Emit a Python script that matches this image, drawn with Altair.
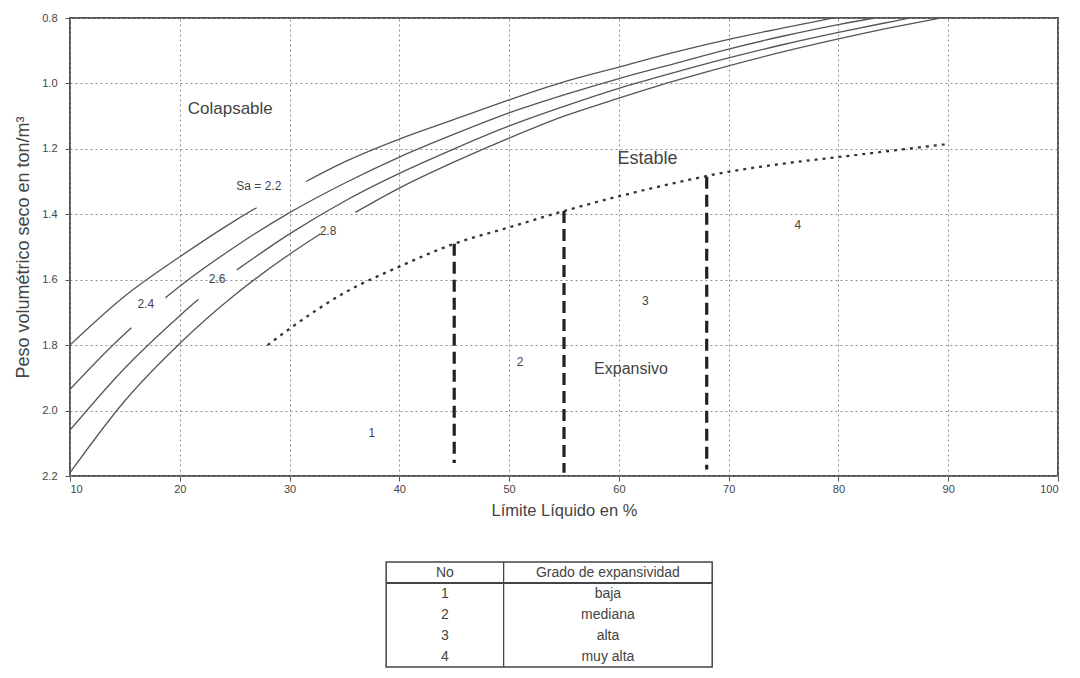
import altair as alt
import pandas as pd

FONT = "Liberation Sans"

# ---------------- data ----------------
# Curves of constant Sa (LL in %, dry unit weight in ton/m3); each curve has a gap for its label
ll_22 = [10, 15, 20, 25, 27.0, 31.5, 35, 40, 45, 50, 55, 60, 65, 70, 75, 79.5]
g_22 = [1.80, 1.65, 1.53, 1.42, 1.38, 1.30, 1.24, 1.17, 1.11, 1.05, 0.995, 0.95, 0.905, 0.865, 0.83, 0.80]
gap_22 = [27.0, 31.5]

ll_24 = [10, 15, 15.6, 18.7, 20, 25, 30, 35, 40, 45, 50, 55, 60, 65, 70, 75, 80, 83.3]
g_24 = [1.935, 1.765, 1.747, 1.655, 1.62, 1.50, 1.395, 1.305, 1.225, 1.155, 1.09, 1.035, 0.985, 0.94, 0.895, 0.855, 0.82, 0.80]
gap_24 = [15.6, 18.7]

ll_26 = [10, 15, 20, 21.7, 25.2, 30, 35, 40, 45, 50, 55, 60, 65, 70, 75, 80, 85, 86.5]
g_26 = [2.06, 1.87, 1.71, 1.66, 1.57, 1.46, 1.36, 1.275, 1.20, 1.13, 1.07, 1.015, 0.967, 0.922, 0.881, 0.844, 0.81, 0.80]
gap_26 = [21.7, 25.2]

ll_28 = [10, 15, 20, 25, 30, 32.8, 36, 40, 45, 50, 55, 60, 65, 70, 75, 80, 85, 89.3]
g_28 = [2.19, 1.97, 1.795, 1.647, 1.522, 1.46, 1.394, 1.32, 1.24, 1.167, 1.10, 1.045, 0.993, 0.946, 0.903, 0.864, 0.828, 0.80]
gap_28 = [32.8, 36.0]

# Dotted boundary Estable / Expansivo
bnd_ll = [28, 30, 35, 40, 45, 50, 55, 60, 65, 70, 75, 80, 85, 90]
bnd_g = [1.80, 1.75, 1.64, 1.56, 1.49, 1.44, 1.39, 1.345, 1.305, 1.27, 1.245, 1.225, 1.205, 1.185]

# Dashed dividers between expansivity degrees
div_ll = [45, 55, 68]
div_top = [1.49, 1.39, 1.285]
div_bot = [2.16, 2.19, 2.18]

# Text labels inside the plot
lab_text = ["Colapsable", "Sa = 2.2", "2.4", "2.6", "2.8", "Estable", "4", "3", "2", "Expansivo", "1"]
lab_ll = [24.6, 27.2, 16.9, 23.4, 33.5, 62.6, 76.3, 62.4, 51.0, 61.1, 37.5]
lab_g = [1.078, 1.313, 1.673, 1.597, 1.45, 1.23, 1.432, 1.664, 1.85, 1.872, 2.07]
lab_kind = ["big", "curve", "curve", "curve", "curve", "est", "num", "num", "num", "mid", "num"]

x_ticks = [10, 20, 30, 40, 50, 60, 70, 80, 90, 100]
y_ticks = [0.8, 1.0, 1.2, 1.4, 1.6, 1.8, 2.0, 2.2]

# Table
tbl_head = ["No", "Grado de expansividad"]
tbl_no = ["1", "2", "3", "4"]
tbl_grado = ["baja", "mediana", "alta", "muy alta"]

# ---------------- build tables ----------------
rows = []
for name, lls, gs, gap in [("2.2", ll_22, g_22, gap_22), ("2.4", ll_24, g_24, gap_24),
                           ("2.6", ll_26, g_26, gap_26), ("2.8", ll_28, g_28, gap_28)]:
    for l, g in zip(lls, gs):
        rows.append({"ll": l, "g": g, "curve": name, "seg": 0 if l <= gap[0] else 1})
df_curves = pd.DataFrame(rows)
df_curves["key"] = df_curves["curve"] + "_" + df_curves["seg"].astype(str)

df_bnd = pd.DataFrame({"ll": bnd_ll, "g": bnd_g})
df_div = pd.DataFrame({"ll": div_ll, "g": div_top, "g2": div_bot})
df_lab = pd.DataFrame({"ll": lab_ll, "g": lab_g, "t": lab_text, "k": lab_kind})

XS = alt.Scale(domain=[10, 100], nice=False, zero=False)
YS = alt.Scale(domain=[0.8, 2.2], reverse=True, nice=False, zero=False)

AX_X = alt.Axis(values=x_ticks, title="Límite Líquido en %", grid=True, gridDash=[2, 3],
                gridColor="#8c8c8c", gridWidth=1, domain=False, tickSize=5, tickColor="#555",
                labelPadding=2, labelFontSize=11, labelColor="#444", titleFontSize=16.5,
                titleColor="#444", titleFontWeight="normal", titlePadding=8, labelFont=FONT, titleFont=FONT)
AX_Y = alt.Axis(values=y_ticks, format=".1f", title="Peso volumétrico seco en ton/m³", grid=True,
                gridDash=[2, 3], gridColor="#8c8c8c", gridWidth=1, domain=False, tickSize=5,
                tickColor="#555", labelPadding=8, labelFontSize=11, labelColor="#444",
                titleFontSize=18, titleColor="#444", titleFontWeight="normal", titlePadding=9,
                labelFont=FONT, titleFont=FONT)


def X(f):
    return alt.X(f, type="quantitative", scale=XS, axis=AX_X)


def Y(f):
    return alt.Y(f, type="quantitative", scale=YS, axis=AX_Y)


curves = alt.Chart(df_curves).mark_line(color="#555", strokeWidth=1.3, interpolate="monotone").encode(
    x=X("ll"), y=Y("g"), detail="key:N")

bnd = alt.Chart(df_bnd).mark_line(color="#333", strokeWidth=2.3, strokeDash=[3, 5],
                                  interpolate="monotone").encode(x=X("ll"), y=Y("g"))

divs = alt.Chart(df_div).mark_rule(color="#222", strokeWidth=3.2, strokeDash=[12, 6]).encode(
    x=X("ll"), y=Y("g"), y2="g2")


def txt(kind, size):
    return alt.Chart(df_lab).transform_filter(alt.datum.k == kind).mark_text(
        font=FONT, fontSize=size, color="#444", align="center", baseline="middle").encode(
        x=X("ll"), y=Y("g"), text="t:N")


main = alt.layer(curves, bnd, divs, txt("big", 17), txt("est", 18), txt("mid", 16),
                 txt("curve", 12), txt("num", 12)).properties(
    width=988, height=458, view=alt.ViewBackground(stroke="#555", strokeWidth=2))

# ---------------- table below ----------------
TBL_X = [38.8, 49.5, 68.5]
cells = [{"r": 0.5, "c": (TBL_X[0] + TBL_X[1]) / 2, "t": tbl_head[0]},
         {"r": 0.5, "c": (TBL_X[1] + TBL_X[2]) / 2, "t": tbl_head[1]}]
for i, (n, g) in enumerate(zip(tbl_no, tbl_grado)):
    cells.append({"r": i + 1.5, "c": (TBL_X[0] + TBL_X[1]) / 2, "t": n})
    cells.append({"r": i + 1.5, "c": (TBL_X[1] + TBL_X[2]) / 2, "t": g})
df_cells = pd.DataFrame(cells)

TX = alt.Scale(domain=[10, 100], nice=False, zero=False)
TY = alt.Scale(domain=[0, 5], reverse=True, nice=False, zero=False)

df_box = pd.DataFrame({"x": [TBL_X[0]], "x2": [TBL_X[2]], "y": [0], "y2": [5]})
box = alt.Chart(df_box).mark_rect(fillOpacity=0, stroke="#444", strokeWidth=1.5).encode(
    x=alt.X("x:Q", scale=TX, axis=None), x2="x2", y=alt.Y("y:Q", scale=TY, axis=None), y2="y2")
df_vl = pd.DataFrame({"x": [TBL_X[1]], "y": [0], "y2": [5]})
vline = alt.Chart(df_vl).mark_rule(color="#444", strokeWidth=1.3).encode(
    x=alt.X("x:Q", scale=TX, axis=None), y=alt.Y("y:Q", scale=TY, axis=None), y2="y2")
df_hl = pd.DataFrame({"x": [TBL_X[0]], "x2": [TBL_X[2]], "y": [1]})
hline = alt.Chart(df_hl).mark_rule(color="#444", strokeWidth=2).encode(
    x=alt.X("x:Q", scale=TX, axis=None), x2="x2", y=alt.Y("y:Q", scale=TY, axis=None))
ttext = alt.Chart(df_cells).mark_text(font=FONT, fontSize=14, color="#444", align="center",
                                      baseline="middle").encode(
    x=alt.X("c:Q", scale=TX, axis=None), y=alt.Y("r:Q", scale=TY, axis=None), text="t:N")

table = alt.layer(box, vline, hline, ttext).properties(
    width=988, height=105, view=alt.ViewBackground(stroke="transparent"))

chart = alt.vconcat(main, table, spacing=86, bounds="flush").properties(
    padding={"left": 5, "top": 3, "right": 2, "bottom": 1}, background="white")

chart.save("out.html", embed_options={"renderer": "svg", "actions": False})
